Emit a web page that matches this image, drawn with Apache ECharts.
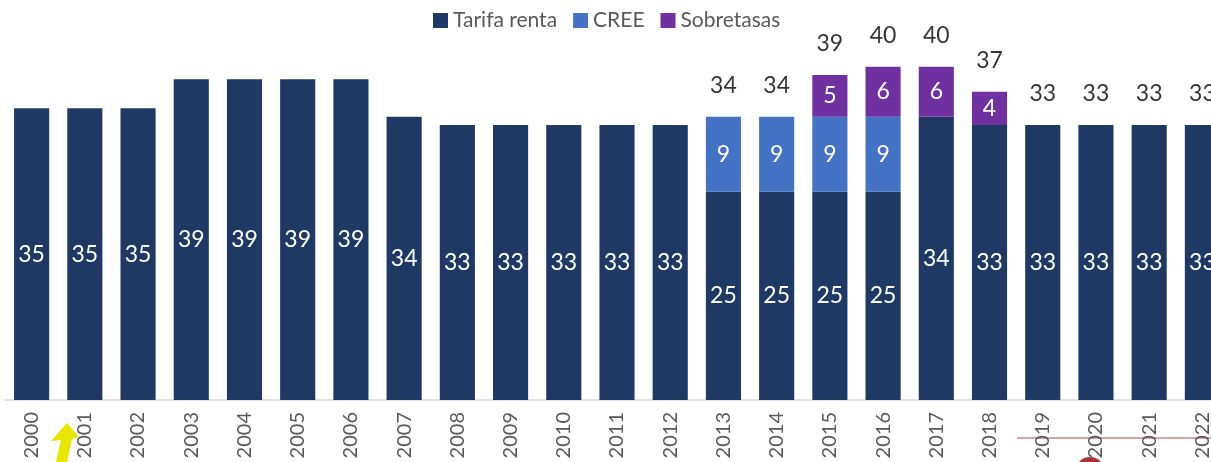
<!DOCTYPE html>
<html>
<head>
<meta charset="utf-8">
<script src="https://cdn.jsdelivr.net/npm/echarts@6/dist/echarts.min.js"></script>
<style>
  html, body { margin: 0; padding: 0; background: #fff; overflow: hidden; }
  #chart { width: 1232px; height: 462px; }
</style>
</head>
<body>
<div id="chart"></div>
<script>
// datos
var years = ['2000','2001','2002','2003','2004','2005','2006','2007','2008','2009','2010',
             '2011','2012','2013','2014','2015','2016','2017','2018','2019','2020','2021','2022'];
var tarifaRenta = [35, 35, 35, 38.5, 38.5, 38.5, 38.5, 34, 33, 33, 33, 33, 33, 25, 25, 25, 25, 34, 33, 33, 33, 33, 33];
var cree =        [0, 0, 0, 0, 0, 0, 0, 0, 0, 0, 0, 0, 0, 9, 9, 9, 9, 0, 0, 0, 0, 0, 0];
var sobretasas =  [0, 0, 0, 0, 0, 0, 0, 0, 0, 0, 0, 0, 0, 0, 0, 5, 6, 6, 4, 0, 0, 0, 0];
var totalShown =  [null, null, null, null, null, null, null, null, null, null, null, null, null,
                   34, 34, 39, 40, 40, 37, 33, 33, 33, 33];

var FONT = 'Lato, "Open Sans", sans-serif';

function inner(p) {
  return p.value ? Math.round(p.value) : '';
}

var chart = echarts.init(document.getElementById('chart'));

var option = {
  animation: false,
  textStyle: { fontFamily: FONT },
  legend: {
    data: ['Tarifa renta', 'CREE', 'Sobretasas'],
    top: 5,
    left: 428,
    itemWidth: 15,
    itemHeight: 15,
    itemGap: 16,
    icon: 'rect',
    textStyle: { fontSize: 21, color: '#595959', fontFamily: FONT }
  },
  grid: { left: 5, top: 25, width: 1224, height: 375 },
  xAxis: {
    type: 'category',
    data: years,
    axisTick: { show: false },
    axisLine: { lineStyle: { color: '#d9d9d9', width: 1.5 } },
    axisLabel: { rotate: 90, margin: 12, fontSize: 20, color: '#595959', fontFamily: FONT, interval: 0 }
  },
  yAxis: {
    type: 'value',
    min: 0,
    max: 45,
    show: false,
    splitLine: { show: false }
  },
  series: [
    {
      name: 'Tarifa renta',
      type: 'bar',
      stack: 't',
      barCategoryGap: '34%',
      data: tarifaRenta,
      itemStyle: { color: '#203864' },
      label: { show: true, position: 'inside', color: '#fff', fontSize: 23, formatter: inner }
    },
    {
      name: 'CREE',
      type: 'bar',
      stack: 't',
      data: cree,
      itemStyle: { color: '#4472C4' },
      label: { show: true, position: 'inside', color: '#fff', fontSize: 23, formatter: inner }
    },
    {
      name: 'Sobretasas',
      type: 'bar',
      stack: 't',
      data: sobretasas,
      itemStyle: { color: '#7030A0' },
      label: { show: true, position: 'inside', color: '#fff', fontSize: 23, formatter: inner }
    },
    {
      name: 'Total',
      type: 'scatter',
      symbolSize: 0,
      data: totalShown.map(function (v) { return v == null ? '-' : v; }),
      label: {
        show: true,
        position: 'top',
        distance: 20,
        color: '#000',
        fontSize: 23,
        formatter: function (p) { return p.value; }
      },
      silent: true
    }
  ],
  graphic: [
    {
      type: 'polygon',
      shape: { points: [[67, 423], [79, 437], [72, 439], [67, 462], [56, 462], [61, 440], [51, 441]] },
      style: { fill: '#e6e600' }
    },
    {
      type: 'line',
      shape: { x1: 1017, y1: 438, x2: 1211, y2: 438 },
      style: { stroke: '#d9a3a3', lineWidth: 2 }
    },
    {
      type: 'circle',
      shape: { cx: 1090, cy: 472, r: 15 },
      style: { fill: '#a8322f' }
    }
  ]
};

chart.setOption(option);
</script>
</body>
</html>
